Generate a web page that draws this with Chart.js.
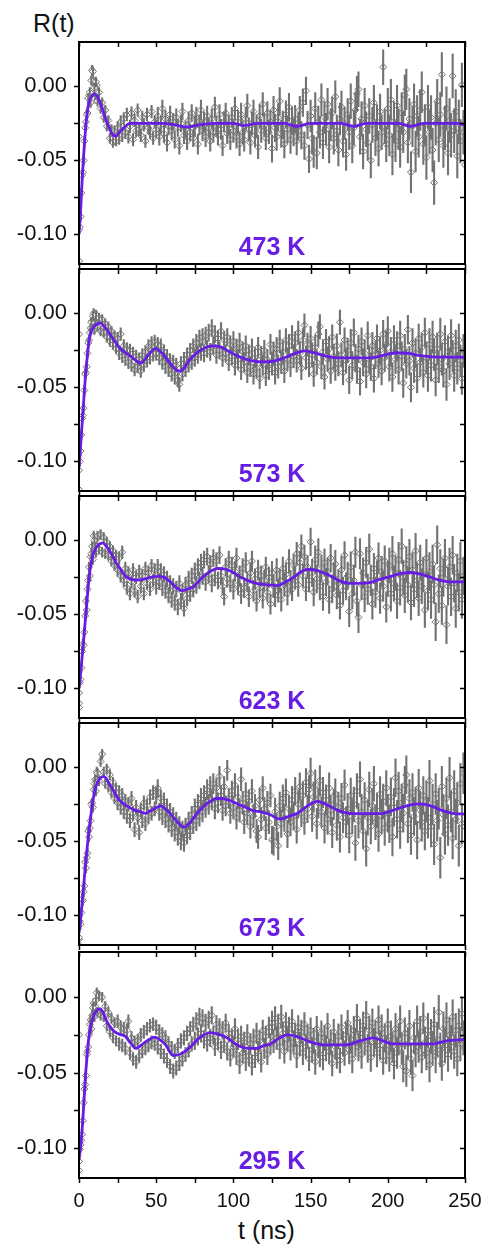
<!DOCTYPE html>
<html><head><meta charset="utf-8">
<script src="https://cdn.jsdelivr.net/npm/chart.js@4.4.0/dist/chart.umd.min.js"></script>
<style>
html,body{margin:0;padding:0;background:#fff;}
body{width:483px;height:1252px;position:relative;overflow:hidden;font-family:'Liberation Sans',Arial,sans-serif;}
.panel{position:absolute;left:0;width:483px;}
.panel canvas{display:block;}
.txt{position:absolute;font-size:25px;line-height:1;color:#111;white-space:nowrap;}
</style></head><body>
<div class="txt" style="left:33px;top:11px">R(t)</div>
<div class="txt" style="left:238px;top:1218px">t (ns)</div>
<script>
// ---------- labels / ticks ----------
const temperatures = ['473 K', '573 K', '623 K', '673 K', '295 K'];
const xTickLabels = [0, 50, 100, 150, 200, 250];
const xTickMarks = [0, 25, 50, 75, 100, 125, 150, 175, 200, 225, 250];
const yTickLabels = [-0.10, -0.05, 0.00];
const yTickMarks = [-0.10, -0.075, -0.05, -0.025, 0.00];
const tStepNs = 1; // data sampled every 1 ns from t = 0

// ---------- fit curves ----------
const fitT_473 = [0,1,2,3,4,5,6,7,8,10,12,14,16,18,20,22,24,26,28,30,33,40,55,62,70,78,90,100,107,115,133,141,150,170,178,186,207,215,223,245,250];
const fitR_473 = [-0.100,-0.085,-0.064,-0.047,-0.032,-0.021,-0.013,-0.009,-0.007,-0.005,-0.007,-0.012,-0.018,-0.024,-0.029,-0.033,-0.0335,-0.031,-0.029,-0.027,-0.025,-0.025,-0.025,-0.026,-0.0275,-0.026,-0.025,-0.025,-0.0265,-0.025,-0.025,-0.027,-0.025,-0.025,-0.027,-0.025,-0.025,-0.027,-0.025,-0.025,-0.026];

const fitT_573 = [0,1,2,3,4,5,6,7,8,9,10,12,14,16,18,20,22,24,27,30,33.5,37,40,42,45,48,50,53,57,61,65,68,72,76,81,87,92,96,105,112,120,127,133,140,146,152,159,167,180,189,198,206,214,221,232,250];
const fitR_573 = [-0.104,-0.090,-0.075,-0.060,-0.045,-0.033,-0.023,-0.016,-0.012,-0.010,-0.0085,-0.007,-0.0066,-0.0085,-0.011,-0.014,-0.017,-0.020,-0.024,-0.0265,-0.029,-0.032,-0.0335,-0.032,-0.028,-0.0245,-0.024,-0.026,-0.031,-0.036,-0.039,-0.037,-0.031,-0.027,-0.0236,-0.022,-0.0228,-0.025,-0.0297,-0.032,-0.0328,-0.032,-0.030,-0.027,-0.0253,-0.0265,-0.0286,-0.030,-0.030,-0.030,-0.028,-0.0266,-0.027,-0.0286,-0.0295,-0.0295];

const fitT_623 = [0,1,2,3,4,5,6,7,8,9,10,12,14,15,16,18,20,22,24,27,30,33.5,37,41,46,52,55,58,62,67,70,74.5,78,81,85,89.6,95,100,105,109,115,122,128.5,134,139,144,150,156,163,168,174,181,189,196,202,208,215,222,228,234,241,250];
const fitR_623 = [-0.100,-0.090,-0.079,-0.067,-0.055,-0.043,-0.031,-0.021,-0.015,-0.010,-0.007,-0.0035,-0.002,-0.0018,-0.002,-0.0045,-0.0073,-0.011,-0.015,-0.0195,-0.024,-0.026,-0.0268,-0.0265,-0.025,-0.0243,-0.025,-0.027,-0.031,-0.034,-0.033,-0.031,-0.027,-0.024,-0.021,-0.019,-0.0195,-0.0217,-0.025,-0.027,-0.029,-0.030,-0.0305,-0.028,-0.025,-0.021,-0.0195,-0.021,-0.024,-0.027,-0.0288,-0.029,-0.0283,-0.026,-0.0243,-0.0225,-0.0217,-0.023,-0.025,-0.027,-0.028,-0.028];

const fitT_673 = [0,1,2,3,4,5,6,7,8,9,10,11,12,14,16,18,20,22,24,27,31,35.6,40,43,47,50,53,56,59,63,68,72,76.7,81,85,89,93,98,102.6,108,113,118,124,130,136,141.5,148,154.4,160,167,172,178,195,202,208,214,221,228,234,242,250];
const fitR_673 = [-0.112,-0.103,-0.092,-0.080,-0.068,-0.057,-0.047,-0.038,-0.030,-0.023,-0.017,-0.013,-0.010,-0.007,-0.006,-0.008,-0.012,-0.015,-0.019,-0.023,-0.026,-0.0287,-0.030,-0.031,-0.029,-0.0272,-0.026,-0.028,-0.031,-0.036,-0.0404,-0.037,-0.031,-0.026,-0.023,-0.021,-0.021,-0.0225,-0.0247,-0.027,-0.0294,-0.030,-0.032,-0.035,-0.033,-0.031,-0.026,-0.023,-0.025,-0.0287,-0.0305,-0.0313,-0.0313,-0.0295,-0.0274,-0.0255,-0.0247,-0.026,-0.0287,-0.031,-0.0316];

const fitT_295 = [0,1,2,3,4,5,6,7,8,9,10,12,13.6,15,18,20.5,23,26,30,33,37,40,44,49,52,56,61,65,70,74,78,85,90,96,100,104,110,115,120,124,130,135,141,148,158,173,182,191,197,203,216,229,238,250];
const fitR_295 = [-0.108,-0.100,-0.088,-0.073,-0.055,-0.042,-0.030,-0.023,-0.018,-0.014,-0.011,-0.0085,-0.0076,-0.009,-0.016,-0.020,-0.0228,-0.0245,-0.026,-0.030,-0.034,-0.032,-0.029,-0.0265,-0.028,-0.0315,-0.0387,-0.038,-0.035,-0.031,-0.027,-0.0235,-0.0245,-0.027,-0.030,-0.0325,-0.034,-0.034,-0.032,-0.031,-0.027,-0.025,-0.026,-0.029,-0.0316,-0.0316,-0.029,-0.027,-0.029,-0.031,-0.031,-0.031,-0.029,-0.028];

// ---------- measured R(t), one value per ns, t = 0..250 ----------
const R_473 = [
-0.097,-0.088,-0.060,-0.050,-0.028,-0.019,-0.008,-0.004,0.004,0.010,
-0.001,0.003,-0.010,-0.004,-0.015,-0.011,-0.021,-0.016,-0.027,-0.023,
-0.035,-0.029,-0.038,-0.030,-0.037,-0.028,-0.035,-0.024,-0.033,-0.022,
-0.031,-0.019,-0.034,-0.027,-0.018,-0.036,-0.023,-0.030,-0.016,-0.029,
-0.033,-0.021,-0.026,-0.037,-0.019,-0.028,-0.031,-0.017,-0.035,-0.024,
-0.029,-0.020,-0.034,-0.026,-0.015,-0.032,-0.022,-0.038,-0.027,-0.019,
-0.030,-0.024,-0.036,-0.021,-0.028,-0.040,-0.025,-0.017,-0.033,-0.029,
-0.037,-0.023,-0.031,-0.018,-0.035,-0.027,-0.021,-0.039,-0.026,-0.016,
-0.030,-0.024,-0.034,-0.020,-0.028,-0.037,-0.022,-0.031,-0.014,-0.027,
-0.033,-0.019,-0.029,-0.040,-0.024,-0.018,-0.032,-0.026,-0.036,-0.021,
-0.030,-0.015,-0.034,-0.024,-0.039,-0.019,-0.031,-0.036,-0.022,-0.013,
-0.029,-0.038,-0.025,-0.017,-0.033,-0.027,-0.041,-0.020,-0.030,-0.012,
-0.026,-0.035,-0.018,-0.031,-0.024,-0.042,-0.016,-0.028,-0.034,-0.021,
-0.010,-0.032,-0.026,-0.039,-0.019,-0.029,-0.014,-0.036,-0.023,-0.031,
-0.022,-0.037,-0.027,-0.016,-0.033,-0.011,-0.040,-0.003,-0.026,-0.049,
-0.020,-0.035,-0.044,-0.015,-0.045,-0.024,-0.031,-0.009,-0.038,-0.021,
-0.029,-0.012,-0.041,-0.026,-0.018,-0.035,-0.007,-0.030,-0.043,-0.022,
-0.014,-0.037,-0.025,-0.046,-0.019,-0.031,-0.010,-0.040,-0.028,-0.016,
-0.005,-0.002,-0.034,-0.022,-0.044,-0.013,-0.029,-0.038,-0.020,-0.050,
-0.026,-0.011,-0.035,-0.024,-0.042,-0.017,-0.031,0.013,-0.027,-0.039,
-0.015,-0.033,-0.009,-0.046,-0.024,-0.037,-0.013,-0.029,-0.041,-0.018,
-0.031,-0.006,-0.002,-0.038,-0.022,-0.058,-0.027,-0.012,-0.044,-0.020,
-0.034,-0.016,-0.004,-0.039,-0.026,-0.048,-0.014,-0.031,-0.021,-0.043,
-0.065,-0.025,-0.010,-0.036,-0.019,0.008,-0.040,-0.028,-0.015,-0.045,
-0.023,-0.033,0.007,-0.030,-0.017,-0.047,-0.024,-0.037,0.001,-0.031,
-0.053];

const R_573 = [
-0.106,-0.093,-0.071,-0.064,-0.041,-0.036,-0.020,-0.013,-0.006,-0.002,
-0.011,-0.001,-0.009,-0.003,-0.012,-0.004,-0.013,-0.007,-0.016,-0.009,
-0.019,-0.012,-0.021,-0.015,-0.024,-0.017,-0.027,-0.014,-0.029,-0.022,
-0.031,-0.024,-0.033,-0.025,-0.035,-0.027,-0.038,-0.029,-0.036,-0.031,
-0.039,-0.028,-0.035,-0.026,-0.032,-0.022,-0.030,-0.020,-0.028,-0.019,
-0.027,-0.021,-0.030,-0.022,-0.033,-0.026,-0.036,-0.029,-0.038,-0.032,
-0.041,-0.033,-0.043,-0.035,-0.045,-0.048,-0.034,-0.041,-0.031,-0.038,
-0.028,-0.035,-0.025,-0.033,-0.022,-0.030,-0.020,-0.028,-0.017,-0.026,
-0.016,-0.027,-0.015,-0.024,-0.013,-0.026,-0.010,-0.022,-0.014,-0.028,
-0.017,-0.025,-0.012,-0.030,-0.018,-0.027,-0.016,-0.033,-0.021,-0.029,
-0.019,-0.035,-0.024,-0.031,-0.020,-0.038,-0.026,-0.033,-0.022,-0.040,
-0.028,-0.036,-0.024,-0.041,-0.030,-0.037,-0.023,-0.044,-0.029,-0.035,
-0.025,-0.042,-0.031,-0.038,-0.021,-0.034,-0.027,-0.040,-0.024,-0.036,
-0.019,-0.033,-0.026,-0.039,-0.018,-0.031,-0.022,-0.035,-0.016,-0.029,
-0.020,-0.032,-0.013,-0.027,-0.037,-0.018,-0.008,-0.030,-0.021,-0.035,
-0.017,-0.028,-0.041,-0.023,-0.033,-0.014,-0.009,-0.036,-0.026,-0.043,
-0.019,-0.031,-0.024,-0.039,-0.016,-0.029,-0.037,-0.022,-0.034,-0.006,
-0.028,-0.040,-0.018,-0.032,-0.025,-0.045,-0.020,-0.035,-0.013,-0.030,
-0.038,-0.024,-0.046,-0.019,-0.033,-0.027,-0.041,-0.015,-0.031,-0.036,
-0.022,-0.044,-0.028,-0.017,-0.034,-0.025,-0.039,-0.014,-0.030,-0.021,
-0.012,-0.036,-0.026,-0.043,-0.018,-0.031,-0.022,-0.038,-0.015,-0.029,
-0.047,-0.024,-0.034,-0.011,-0.032,-0.050,-0.020,-0.037,-0.027,-0.044,
-0.017,-0.033,-0.023,-0.040,-0.013,-0.030,-0.042,-0.021,-0.035,-0.016,
-0.028,-0.045,-0.024,-0.036,-0.014,-0.031,-0.039,-0.019,-0.048,-0.026,
-0.034,-0.015,-0.029,-0.042,-0.022,-0.037,-0.018,-0.032,-0.044,-0.025,
-0.035];

const R_623 = [
-0.103,-0.094,-0.075,-0.071,-0.051,-0.047,-0.027,-0.024,-0.009,-0.013,
0.000,-0.008,0.003,-0.006,0.004,-0.008,0.002,-0.009,-0.001,-0.010,
-0.004,-0.014,-0.007,-0.017,-0.010,-0.020,-0.012,-0.024,-0.008,-0.027,
-0.019,-0.032,-0.022,-0.036,-0.028,-0.020,-0.034,-0.025,-0.038,-0.021,
-0.031,-0.024,-0.036,-0.019,-0.029,-0.022,-0.033,-0.017,-0.027,-0.020,
-0.031,-0.018,-0.028,-0.021,-0.032,-0.023,-0.034,-0.026,-0.037,-0.029,
-0.040,-0.031,-0.042,-0.033,-0.045,-0.029,-0.041,-0.035,-0.046,-0.030,
-0.039,-0.026,-0.036,-0.024,-0.033,-0.021,-0.030,-0.018,-0.027,-0.015,
-0.024,-0.013,-0.028,-0.011,-0.023,-0.016,-0.029,-0.012,-0.025,-0.014,
-0.027,-0.010,-0.024,-0.031,-0.038,-0.018,-0.026,-0.013,-0.029,-0.017,
-0.033,-0.021,-0.012,-0.030,-0.024,-0.036,-0.019,-0.032,-0.015,-0.028,
-0.038,-0.022,-0.014,-0.034,-0.026,-0.041,-0.020,-0.032,-0.024,-0.039,
-0.027,-0.018,-0.035,-0.025,-0.043,-0.022,-0.031,-0.037,-0.020,-0.034,
-0.027,-0.040,-0.019,-0.030,-0.023,-0.036,-0.014,-0.028,-0.033,-0.017,
-0.025,-0.009,-0.030,-0.015,-0.004,-0.024,-0.011,-0.033,-0.018,-0.027,
-0.001,-0.022,-0.035,-0.013,-0.026,-0.008,-0.031,-0.019,-0.038,-0.015,
-0.028,-0.021,-0.040,-0.012,-0.033,-0.025,-0.016,-0.037,-0.029,-0.044,
-0.020,-0.034,-0.010,-0.031,-0.024,-0.048,-0.018,-0.036,-0.027,-0.008,
-0.041,-0.052,-0.009,-0.030,-0.022,-0.038,-0.015,-0.033,-0.006,-0.027,
-0.043,-0.019,-0.035,-0.024,-0.012,-0.039,-0.021,-0.031,-0.014,-0.045,
-0.026,-0.017,-0.036,-0.009,-0.029,-0.022,-0.041,-0.013,-0.032,-0.004,
-0.025,-0.037,-0.016,-0.030,-0.011,-0.042,-0.020,-0.033,-0.007,-0.027,
-0.039,-0.015,-0.031,-0.023,-0.047,-0.012,-0.034,-0.021,-0.040,-0.016,
-0.030,-0.055,-0.003,-0.036,-0.019,-0.044,-0.025,-0.012,-0.057,-0.031,
-0.018,-0.038,-0.010,-0.029,-0.046,-0.022,-0.035,-0.014,-0.040,-0.024,
-0.032];

const R_673 = [
-0.115,-0.106,-0.089,-0.084,-0.064,-0.061,-0.043,-0.041,-0.025,-0.027,
-0.011,-0.016,-0.004,-0.009,0.004,0.009,-0.003,-0.011,-0.001,-0.013,
-0.005,-0.017,-0.010,-0.021,-0.014,-0.024,-0.017,-0.027,-0.019,-0.030,
-0.023,-0.033,-0.025,-0.036,-0.021,-0.031,-0.042,-0.027,-0.034,-0.044,
-0.029,-0.036,-0.024,-0.038,-0.026,-0.033,-0.020,-0.031,-0.017,-0.028,
-0.019,-0.014,-0.030,-0.021,-0.033,-0.023,-0.035,-0.027,-0.038,-0.030,
-0.041,-0.033,-0.044,-0.036,-0.047,-0.039,-0.050,-0.042,-0.051,-0.040,
-0.046,-0.036,-0.043,-0.032,-0.039,-0.028,-0.036,-0.025,-0.033,-0.021,
-0.030,-0.019,-0.027,-0.015,-0.025,-0.013,-0.022,-0.011,-0.028,-0.014,
-0.024,-0.006,-0.019,-0.029,-0.013,-0.026,-0.002,-0.021,-0.031,-0.016,
-0.027,-0.012,-0.034,-0.020,-0.029,-0.008,-0.024,-0.037,-0.018,-0.031,
-0.023,-0.040,-0.016,-0.033,-0.026,-0.043,-0.047,-0.022,-0.035,-0.014,
-0.028,-0.041,-0.024,-0.037,-0.019,-0.049,-0.050,-0.030,-0.040,-0.053,
-0.026,-0.038,-0.021,-0.034,-0.017,-0.045,-0.028,-0.037,-0.022,-0.033,
-0.016,-0.042,-0.025,-0.013,-0.031,-0.019,-0.036,-0.010,-0.028,-0.015,
-0.004,-0.033,-0.020,-0.012,-0.038,-0.024,-0.009,-0.030,-0.017,-0.041,
-0.022,-0.035,-0.014,-0.029,-0.044,-0.025,-0.018,-0.039,-0.027,-0.047,
-0.021,-0.034,-0.012,-0.037,-0.028,-0.046,-0.019,-0.033,-0.025,-0.051,
-0.016,-0.036,-0.008,-0.030,-0.043,-0.022,-0.055,-0.034,-0.015,-0.040,
-0.026,-0.011,-0.037,-0.029,-0.045,-0.018,-0.033,-0.023,-0.041,-0.014,
-0.031,-0.038,-0.020,-0.047,-0.027,-0.007,-0.035,-0.016,-0.042,-0.024,
-0.031,-0.012,-0.005,-0.038,-0.021,-0.046,-0.017,-0.033,-0.026,-0.049,
-0.014,-0.029,-0.037,-0.019,-0.043,-0.023,-0.034,-0.009,-0.040,-0.025,
-0.052,-0.018,-0.036,-0.028,-0.061,-0.013,-0.032,-0.045,-0.021,-0.039,
-0.007,-0.030,-0.048,-0.016,-0.035,-0.024,-0.053,-0.011,-0.038,-0.004,
-0.040];

const R_295 = [
-0.109,-0.098,-0.091,-0.070,-0.058,-0.038,-0.033,-0.018,-0.021,-0.007,
-0.013,-0.002,-0.010,0.001,-0.012,0.000,-0.013,-0.006,-0.019,-0.010,
-0.023,-0.014,-0.027,-0.017,-0.029,-0.016,-0.031,-0.020,-0.032,-0.021,
-0.034,-0.022,-0.016,-0.037,-0.027,-0.041,-0.030,-0.043,-0.029,-0.039,
-0.025,-0.036,-0.023,-0.034,-0.021,-0.032,-0.019,-0.030,-0.018,-0.031,
-0.020,-0.033,-0.023,-0.036,-0.025,-0.039,-0.027,-0.042,-0.031,-0.046,
-0.034,-0.049,-0.036,-0.047,-0.032,-0.044,-0.029,-0.041,-0.027,-0.038,
-0.024,-0.035,-0.021,-0.031,-0.018,-0.029,-0.016,-0.026,-0.013,-0.024,
-0.014,-0.028,-0.017,-0.030,-0.015,-0.027,-0.012,-0.025,-0.033,-0.018,
-0.029,-0.020,-0.035,-0.022,-0.031,-0.017,-0.036,-0.024,-0.040,-0.027,
-0.033,-0.021,-0.038,-0.028,-0.044,-0.026,-0.037,-0.030,-0.042,-0.025,
-0.039,-0.031,-0.045,-0.028,-0.040,-0.024,-0.036,-0.029,-0.043,-0.022,
-0.034,-0.026,-0.038,-0.020,-0.031,-0.017,-0.029,-0.014,-0.027,-0.019,
-0.033,-0.013,-0.024,-0.036,-0.018,-0.028,-0.021,-0.034,-0.016,-0.030,
-0.025,-0.039,-0.020,-0.031,-0.023,-0.037,-0.018,-0.033,-0.026,-0.041,
-0.022,-0.035,-0.029,-0.043,-0.021,-0.032,-0.038,-0.024,-0.040,-0.027,
-0.034,-0.019,-0.036,-0.030,-0.044,-0.023,-0.033,-0.039,-0.026,-0.042,
-0.020,-0.031,-0.037,-0.025,-0.017,-0.035,-0.028,-0.041,-0.022,-0.030,
-0.014,-0.033,-0.024,-0.038,-0.019,-0.029,-0.012,-0.034,-0.022,-0.040,
-0.017,-0.030,-0.025,-0.037,-0.015,-0.032,-0.021,-0.042,-0.027,-0.035,
-0.018,-0.039,-0.026,-0.033,-0.044,-0.021,-0.037,-0.028,-0.016,-0.034,
-0.046,-0.024,-0.049,-0.031,-0.019,-0.041,-0.052,-0.027,-0.036,-0.016,
-0.033,-0.023,-0.040,-0.014,-0.030,-0.037,-0.022,-0.045,-0.026,-0.034,
-0.018,-0.039,-0.028,-0.010,-0.035,-0.044,-0.021,-0.032,-0.015,-0.038,
-0.025,-0.030,-0.013,-0.036,-0.022,-0.041,-0.019,-0.031,-0.011,-0.027,
-0.034];

// extra points in the rising edge (half-ns times)
const earlyT = [0, 0, 0.5, 1.5, 2.5, 3.5, 4.5, 5.5, 6.5, 7.5, 8.5, 9.5, 10.5, 11.5];
const early_473 = [-0.034,-0.118,-0.095,-0.072,-0.058,-0.037,-0.024,-0.018,-0.006,-0.011,0.011,0.003,-0.008,0.001];
const early_573 = [-0.014,-0.119,-0.100,-0.082,-0.069,-0.052,-0.040,-0.027,-0.018,-0.010,-0.005,0.000,-0.006,-0.002];
const early_623 = [-0.110,-0.113,-0.096,-0.086,-0.070,-0.062,-0.041,-0.033,-0.018,-0.011,-0.004,0.003,-0.003,0.001];
const early_673 = [-0.120,-0.116,-0.104,-0.098,-0.090,-0.080,-0.068,-0.058,-0.047,-0.036,-0.024,-0.015,-0.008,-0.003];
const early_295 = [-0.025,-0.115,-0.101,-0.095,-0.082,-0.061,-0.052,-0.036,-0.025,-0.015,-0.012,-0.004,-0.006,0.003];

// error bar half-length for each 25 ns block
const err_473 = [0.0035,0.0045,0.006,0.007,0.008,0.0095,0.011,0.012,0.014,0.015];
const err_573 = [0.0035,0.0045,0.005,0.006,0.007,0.008,0.0085,0.0095,0.010,0.011];
const err_623 = [0.0035,0.0045,0.0055,0.006,0.007,0.008,0.0095,0.0105,0.012,0.013];
const err_673 = [0.0035,0.005,0.006,0.007,0.008,0.0095,0.0105,0.012,0.013,0.014];
const err_295 = [0.0035,0.0045,0.005,0.006,0.007,0.008,0.0085,0.0095,0.0105,0.0115];

// ---------- styling ----------
const PURPLE = '#681de4';
const GRAY = '#727272';
const panelTops = [41, 268, 495, 722, 951];
const panelH = 227;

Chart.defaults.font.family = "'Liberation Sans', Arial, Helvetica, sans-serif";
Chart.defaults.color = '#111';

const panels = [
  {label: temperatures[0], R: R_473, early: early_473, err: err_473, fitT: fitT_473, fitR: fitR_473},
  {label: temperatures[1], R: R_573, early: early_573, err: err_573, fitT: fitT_573, fitR: fitR_573},
  {label: temperatures[2], R: R_623, early: early_623, err: err_623, fitT: fitT_623, fitR: fitR_623},
  {label: temperatures[3], R: R_673, early: early_673, err: err_673, fitT: fitT_673, fitR: fitR_673},
  {label: temperatures[4], R: R_295, early: early_295, err: err_295, fitT: fitT_295, fitR: fitR_295}
];

// error bars drawn right after each point dataset (they cover most diamonds, as in the original)
const errorBarPlugin = {
  id: 'errbars',
  afterDatasetDraw(chart, args) {
    const ds = chart.data.datasets[args.index];
    if (!ds.errs) return;
    const {ctx, chartArea: a, scales: {x, y}} = chart;
    ctx.save();
    ctx.beginPath(); ctx.rect(a.left, a.top, a.right - a.left, a.bottom - a.top); ctx.clip();
    ctx.strokeStyle = GRAY; ctx.lineWidth = 2.1;
    ctx.beginPath();
    ds.data.forEach((p, i) => {
      const px = x.getPixelForValue(p.x);
      ctx.moveTo(px, y.getPixelForValue(p.y + ds.errs[i]));
      ctx.lineTo(px, y.getPixelForValue(p.y - ds.errs[i]));
    });
    ctx.stroke();
    ctx.restore();
  }
};

const framePlugin = {
  id: 'panelDecor',
  afterDraw(chart, args, opts) {
    const {ctx, chartArea: a, scales: {x, y}} = chart;
    ctx.save();
    ctx.strokeStyle = '#000';
    ctx.lineWidth = 1.5;
    ctx.beginPath();
    xTickMarks.forEach(v => {
      const px = Math.round(x.getPixelForValue(v)) + 0.5;
      ctx.moveTo(px, a.top); ctx.lineTo(px, a.top + 5);
      ctx.moveTo(px, a.bottom); ctx.lineTo(px, a.bottom + 5);
    });
    yTickMarks.forEach(v => {
      const py = Math.round(y.getPixelForValue(v)) + 0.5;
      ctx.moveTo(a.left - 5, py); ctx.lineTo(a.left, py);
      ctx.moveTo(a.right, py); ctx.lineTo(a.right - 5, py);
    });
    ctx.stroke();
    ctx.lineWidth = 2;
    ctx.strokeRect(a.left, a.top, a.right - a.left, a.bottom - a.top);
    ctx.fillStyle = PURPLE;
    ctx.font = "bold 25px 'Liberation Sans', Arial, sans-serif";
    ctx.textAlign = 'center';
    ctx.textBaseline = 'alphabetic';
    ctx.fillText(opts.label, x.getPixelForValue(125), a.bottom - 9);
    ctx.restore();
  }
};

panels.forEach((p, i) => {
  const isBottom = i === panels.length - 1;
  const top = panelTops[i] - 4;
  const h = isBottom ? 1252 - top : panelH + 8;
  const div = document.createElement('div');
  div.className = 'panel';
  div.style.top = top + 'px';
  div.style.height = h + 'px';
  const cv = document.createElement('canvas');
  cv.width = 483; cv.height = h;
  cv.style.width = '483px'; cv.style.height = h + 'px';
  div.appendChild(cv);
  document.body.appendChild(div);

  const pts = p.R.map((v, k) => ({x: k * tStepNs, y: v}));
  const errs = p.R.map((v, k) => p.err[Math.min(p.err.length - 1, Math.floor(k * tStepNs / 25))]);
  const ePts = earlyT.map((t, k) => ({x: t, y: p.early[k]}));
  const eErrs = earlyT.map(() => p.err[0]);
  const fitPts = p.fitT.map((t, k) => ({x: t, y: p.fitR[k]}));

  const pointStyle = {
    showLine: false, pointStyle: 'rectRot', pointRadius: 3.5, pointBorderWidth: 1,
    pointBorderColor: GRAY, pointBackgroundColor: '#ffffff', borderColor: GRAY, backgroundColor: '#ffffff'
  };

  new Chart(cv, {
    type: 'line',
    data: {
      datasets: [
        {label: 'fit ' + p.label, data: fitPts, borderColor: PURPLE, borderWidth: 2.8, pointRadius: 0,
         cubicInterpolationMode: 'monotone', fill: false, order: 0},
        Object.assign({label: 'data ' + p.label, data: pts, errs: errs, order: 1}, pointStyle),
        Object.assign({label: 'early ' + p.label, data: ePts, errs: eErrs, order: 2}, pointStyle)
      ]
    },
    options: {
      responsive: false, animation: false, events: [],
      layout: {padding: {left: 0, right: 18, top: 4, bottom: isBottom ? 0 : 4}},
      plugins: {legend: {display: false}, tooltip: {enabled: false}, panelDecor: {label: p.label}},
      scales: {
        x: {
          type: 'linear', min: 0, max: 250, display: isBottom,
          afterBuildTicks: s => { s.ticks = xTickLabels.map(v => ({value: v})); },
          afterFit: s => { s.height = h - 4 - panelH; s.paddingLeft = 0; s.paddingRight = 0; },
          grid: {display: false, drawTicks: false}, border: {display: false},
          ticks: {padding: 11, font: {size: 20}, color: '#111', maxRotation: 0, autoSkip: false}
        },
        y: {
          type: 'linear', min: -0.12, max: 0.03,
          afterBuildTicks: s => { s.ticks = yTickLabels.map(v => ({value: v})); },
          afterFit: s => { s.width = 79; s.paddingTop = 0; s.paddingBottom = 0; },
          grid: {display: false, drawTicks: false}, border: {display: false},
          ticks: {padding: 12, font: {size: 22}, color: '#111', callback: v => Number(v).toFixed(2)}
        }
      }
    },
    plugins: [errorBarPlugin, framePlugin]
  });
});
</script>
</body></html>
